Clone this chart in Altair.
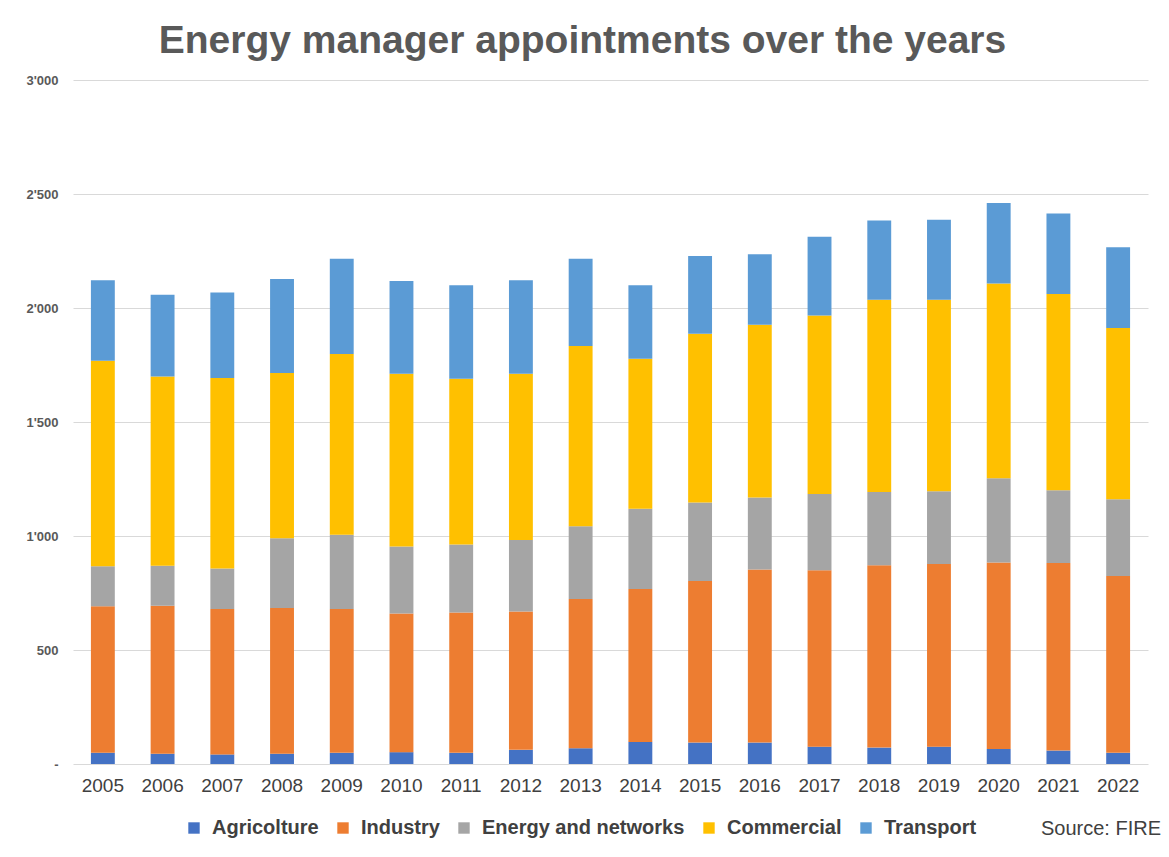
import altair as alt
import pandas as pd

years = [str(y) for y in range(2005, 2023)]
categories = ["Agricolture", "Industry", "Energy and networks", "Commercial", "Transport"]
colors = ["#4472C4", "#ED7D31", "#A5A5A5", "#FFC000", "#5B9BD5"]

agriculture = [49, 45, 42, 45, 49, 52, 49, 62, 69, 97, 94, 94, 76, 72, 76, 66, 59, 49]
industry = [643, 649, 638, 639, 631, 608, 616, 607, 655, 671, 709, 759, 774, 800, 801, 818, 823, 776]
energy = [175, 175, 177, 306, 325, 294, 298, 314, 319, 351, 344, 316, 334, 321, 319, 369, 319, 336]
commercial = [902, 831, 836, 725, 793, 758, 727, 729, 790, 658, 740, 758, 783, 843, 840, 854, 860, 751]
transport = [353, 358, 375, 412, 418, 406, 410, 410, 383, 323, 341, 309, 345, 348, 351, 353, 353, 354]

series = [agriculture, industry, energy, commercial, transport]
y_ticks = [0, 500, 1000, 1500, 2000, 2500, 3000]

rows = []
for ci, (cat, vals) in enumerate(zip(categories, series)):
    for yr, v in zip(years, vals):
        rows.append({"year": yr, "category": cat, "value": v, "order": ci})
df = pd.DataFrame(rows)

FONT = "Liberation Sans"

bars = alt.Chart(df).mark_bar().encode(
    x=alt.X(
        "year:N",
        title=None,
        scale=alt.Scale(paddingInner=0.6, paddingOuter=0.3),
        axis=alt.Axis(labelAngle=0, ticks=False, domain=False, labelFontSize=19,
                      labelColor="#404040", labelPadding=12, labelFont=FONT),
    ),
    y=alt.Y(
        "value:Q",
        stack="zero",
        title=None,
        scale=alt.Scale(domain=[0, 3000]),
        axis=alt.Axis(values=y_ticks, ticks=False, domain=False, labelFontSize=13,
                      labelFontWeight="bold", labelColor="#595959", labelPadding=15,
                      labelFont=FONT, gridColor="#D9D9D9", gridWidth=1,
                      labelExpr='datum.value == 0 ? "-" : replace(format(datum.value, ","), ",", "\'")'),
    ),
    color=alt.Color(
        "category:N",
        scale=alt.Scale(domain=categories, range=colors),
        legend=alt.Legend(title=None, orient="none", direction="horizontal",
                          legendX=111, legendY=738, symbolType="square", symbolSize=130,
                          symbolStrokeWidth=0, labelFontSize=20, labelFontWeight="bold",
                          labelColor="#404040", labelFont=FONT, columnPadding=14,
                          labelOffset=8, labelLimit=0),
    ),
    order=alt.Order("order:Q", sort="ascending"),
)

source = alt.Chart(pd.DataFrame({"t": ["Source: FIRE"]})).mark_text(
    align="left", baseline="middle", fontSize=20, color="#404040", font=FONT
).encode(text="t:N", x=alt.value(968), y=alt.value(749))

chart = alt.layer(bars, source).properties(
    width=1075,
    height=684,
    title=alt.Title("Energy manager appointments over the years", fontSize=39,
                    fontWeight="bold", color="#595959", font=FONT, frame="group",
                    dx=-28, offset=13),
    autosize=alt.AutoSizeParams(type="none"),
    padding={"left": 65, "top": 72, "right": 13, "bottom": 85},
).configure(background="white").configure_view(stroke=None)

chart.save("out.html", embed_options={"renderer": "svg", "actions": False})
